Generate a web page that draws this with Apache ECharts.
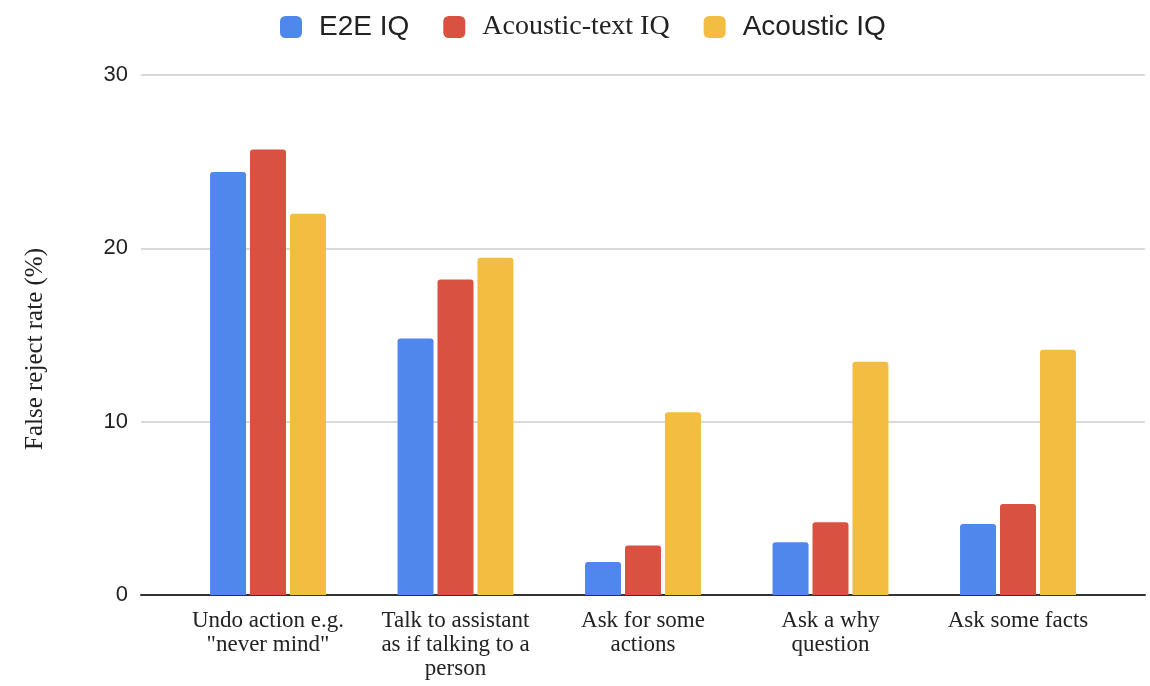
<!DOCTYPE html>
<html>
<head>
<meta charset="utf-8">
<script src="https://cdn.jsdelivr.net/npm/echarts@6/dist/echarts.min.js"></script>
<style>
html,body{margin:0;padding:0;background:#fff;}
#chart{width:1150px;height:686px;}
</style>
</head>
<body>
<div id="chart"></div>
<script>
var categories = ['Undo action e.g.\n"never mind"', 'Talk to assistant\nas if talking to a\nperson', 'Ask for some\nactions', 'Ask a why\nquestion', 'Ask some facts'];
var seriesNames = ['E2E IQ', 'Acoustic-text IQ', 'Acoustic IQ'];
var e2eIQ = [24.4, 14.8, 1.9, 3.05, 4.1];
var acousticTextIQ = [25.7, 18.2, 2.85, 4.2, 5.25];
var acousticIQ = [22.0, 19.45, 10.55, 13.45, 14.15];
var yTicks = [0, 10, 20, 30];
var colors = ['#5087ec', '#d95140', '#f3bd42'];

var chart = echarts.init(document.getElementById('chart'));
var sans = 'Liberation Sans, Arial, sans-serif';
var serif = 'Liberation Serif, Times New Roman, serif';

function bar(name, data, color) {
  return {
    name: name, type: 'bar', xAxisIndex: 1, yAxisIndex: 1,
    data: data, barWidth: 36, barGap: '11%',
    itemStyle: { color: color, borderRadius: [3, 3, 0, 0] }
  };
}

chart.setOption({
  animation: false,
  legend: {
    data: seriesNames,
    left: 280, top: 13, padding: 0,
    itemWidth: 22, itemHeight: 22, itemGap: 34,
    icon: 'roundRect',
    formatter: function (name) {
      return name === 'Acoustic-text IQ' ? '{t|' + name + '}' : '{s|' + name + '}';
    },
    textStyle: {
      color: '#222',
      rich: {
        s: { fontFamily: sans, fontSize: 28, padding: [0, 0, 0, 12], color: '#222' },
        t: { fontFamily: serif, fontSize: 28, padding: [0, 0, 0, 12], color: '#222' }
      }
    }
  },
  grid: [
    { left: 141, right: 5, top: 75, bottom: 91 },
    { left: 174.25, right: 38.25, top: 75, bottom: 91 }
  ],
  xAxis: [
    {
      type: 'category', gridIndex: 0, data: [''],
      axisLine: { show: true, lineStyle: { color: '#333', width: 2 } },
      axisTick: { show: false }, axisLabel: { show: false }, splitLine: { show: false }
    },
    {
      type: 'category', gridIndex: 1, data: categories,
      axisLine: { show: false }, axisTick: { show: false },
      axisLabel: { fontFamily: serif, fontSize: 23, lineHeight: 24, color: '#222', margin: 14, interval: 0 }
    }
  ],
  yAxis: [
    {
      type: 'value', gridIndex: 0, min: 0, max: 30, interval: 10,
      name: 'False reject rate (%)', nameLocation: 'middle', nameGap: 93,
      nameTextStyle: { fontFamily: serif, fontSize: 25, color: '#222', padding: [0, 28, 0, 0] },
      axisLine: { show: false }, axisTick: { show: false },
      axisLabel: { fontFamily: sans, fontSize: 22, color: '#222', margin: 13,
        formatter: function (v) { return yTicks.indexOf(v) >= 0 ? String(v) : ''; } },
      splitLine: { show: true, lineStyle: { color: '#cccccc', width: 1.5 } }
    },
    {
      type: 'value', gridIndex: 1, min: 0, max: 30, interval: 10, show: false,
      splitLine: { show: false }
    }
  ],
  series: [
    bar(seriesNames[0], e2eIQ, colors[0]),
    bar(seriesNames[1], acousticTextIQ, colors[1]),
    bar(seriesNames[2], acousticIQ, colors[2])
  ]
});
</script>
</body>
</html>
